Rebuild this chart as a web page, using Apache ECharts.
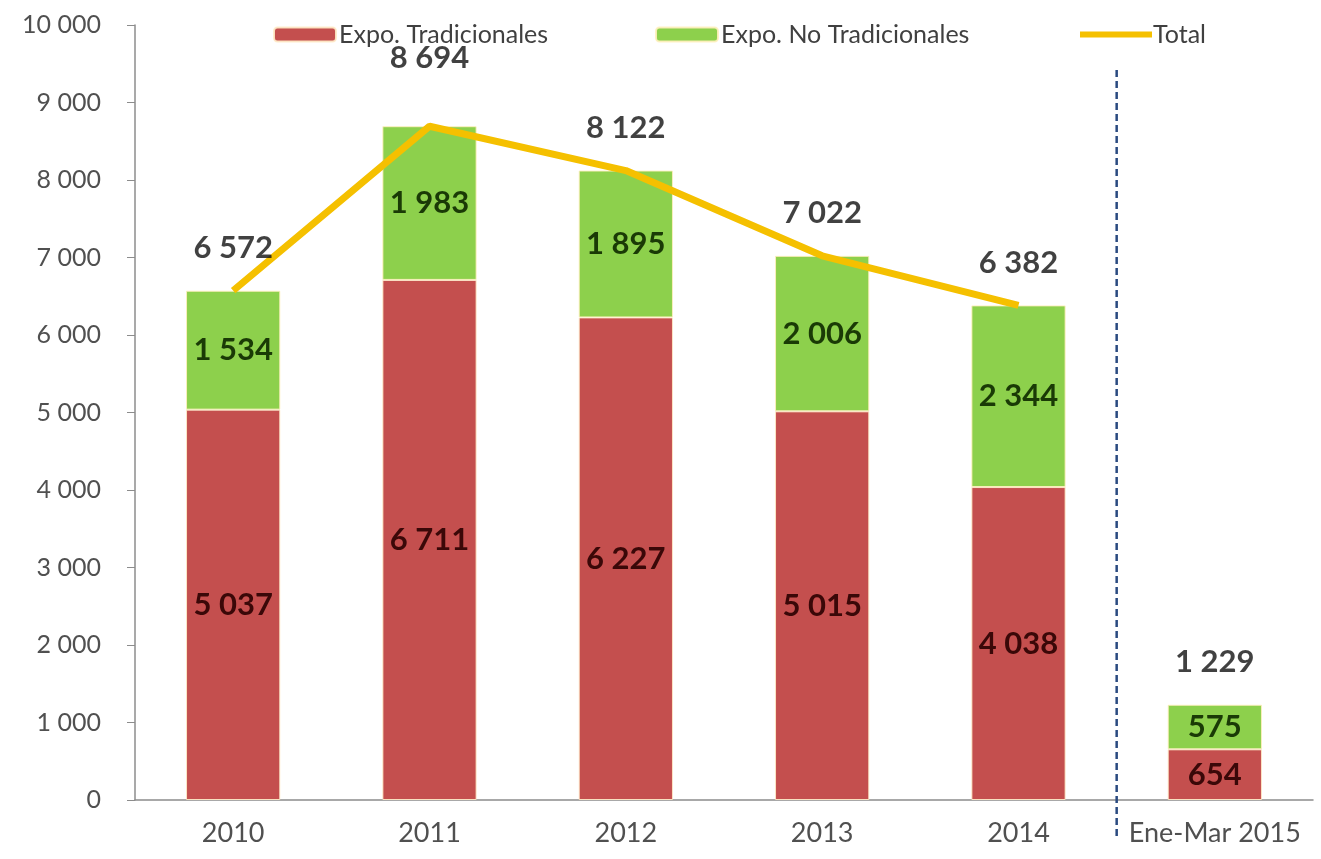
<!DOCTYPE html>
<html>
<head>
<meta charset="utf-8">
<script src="https://cdn.jsdelivr.net/npm/echarts@6/dist/echarts.min.js"></script>
<style>
html,body{margin:0;padding:0;background:#fff;}
#chart{width:1321px;height:859px;}
</style>
</head>
<body>
<div id="chart"></div>
<script>
const categories = ['2010', '2011', '2012', '2013', '2014', 'Ene-Mar 2015'];
const tradicionales = [5037, 6711, 6227, 5015, 4038, 654];
const noTradicionales = [1534, 1983, 1895, 2006, 2344, 575];
const totalLine = [6572, 8694, 8122, 7022, 6382, null];
const totalLabels = [6572, 8694, 8122, 7022, 6382, 1229];

const fmt = v => String(v).replace(/\B(?=(\d{3})+(?!\d))/g, ' ');
const FONT = 'Lato, "Noto Sans", sans-serif';

const chart = echarts.init(document.getElementById('chart'));
const option = {
  backgroundColor: '#ffffff',
  animation: false,
  textStyle: { fontFamily: FONT },
  grid: { left: 135, right: 8, top: 25, bottom: 59, containLabel: false },
  legend: [
    { data: ['Expo. Tradicionales'], left: 268, top: 17, itemWidth: 62, itemHeight: 14,
      textStyle: { fontSize: 25, color: '#404040', fontFamily: FONT, padding: [0,0,0,-2] } },
    { data: ['Expo. No Tradicionales'], left: 650, top: 17, itemWidth: 62, itemHeight: 14,
      textStyle: { fontSize: 25, color: '#404040', fontFamily: FONT, padding: [0,0,0,-2] } },
    { data: [{ name: 'Total', icon: 'rect' }], left: 1075, top: 17, itemWidth: 72, itemHeight: 6,
      textStyle: { fontSize: 25, color: '#404040', fontFamily: FONT, padding: [0,0,0,-4] } }
  ],
  xAxis: {
    type: 'category',
    data: categories,
    axisLine: { show: true, lineStyle: { color: '#8c8c8c', width: 1.5 } },
    axisTick: { show: false },
    axisLabel: { color: '#505050', fontSize: 27, margin: 20, fontFamily: FONT, interval: 0 }
  },
  yAxis: {
    type: 'value',
    min: 0, max: 10000, interval: 1000,
    axisLine: { show: true, lineStyle: { color: '#8c8c8c', width: 1.5 } },
    axisTick: { show: true, length: 8, lineStyle: { color: '#8c8c8c' } },
    splitLine: { show: false },
    axisLabel: { color: '#505050', fontSize: 25, margin: 34, fontFamily: FONT, formatter: v => fmt(v) }
  },
  series: [
    {
      name: 'Expo. Tradicionales', type: 'bar', stack: 'exp', barWidth: '48%',
      data: tradicionales,
      itemStyle: { color: '#C44F4E', borderColor: 'rgba(255,235,200,0.9)', borderWidth: 1 },
      label: { show: true, position: 'inside', formatter: p => fmt(p.value),
        color: '#3a0808', fontWeight: 'bold', fontSize: 31, fontFamily: FONT }
    },
    {
      name: 'Expo. No Tradicionales', type: 'bar', stack: 'exp', barWidth: '48%',
      data: noTradicionales,
      itemStyle: { color: '#8DD04C', borderColor: 'rgba(255,240,190,0.9)', borderWidth: 1 },
      label: { show: true, position: 'inside', formatter: p => fmt(p.value),
        color: '#1a3a06', fontWeight: 'bold', fontSize: 31, fontFamily: FONT }
    },
    {
      name: 'Total', type: 'line', data: totalLine, symbol: 'none', z: 5,
      lineStyle: { color: '#F5C000', width: 7 }, itemStyle: { color: '#F5C000' }
    },
    {
      name: 'totalLabels', type: 'scatter', symbolSize: 0, z: 6,
      data: totalLabels.map((v, i) => i === 1
        ? { value: v, label: { distance: 53 } }
        : { value: v }),
      label: { show: true, position: 'top', distance: 27, formatter: p => fmt(p.value),
        color: '#111111', fontWeight: 'bold', fontSize: 31, fontFamily: FONT },
      tooltip: { show: false }
    }
  ]
};
chart.setOption(option);

// Dashed separator between 2014 and the partial-year category
const x1 = chart.convertToPixel({ xAxisIndex: 0 }, '2014');
const x2 = chart.convertToPixel({ xAxisIndex: 0 }, 'Ene-Mar 2015');
const yTop = chart.convertToPixel({ yAxisIndex: 0 }, 9420);
const yZero = chart.convertToPixel({ yAxisIndex: 0 }, 0);
const xs = (x1 + x2) / 2;
chart.setOption({
  graphic: [{
    type: 'line', z: 10,
    shape: { x1: xs, y1: yTop, x2: xs, y2: yZero + 40 },
    style: { stroke: '#2a4a80', lineWidth: 2.5, lineDash: [7, 4] }
  }]
});
</script>
</body>
</html>
